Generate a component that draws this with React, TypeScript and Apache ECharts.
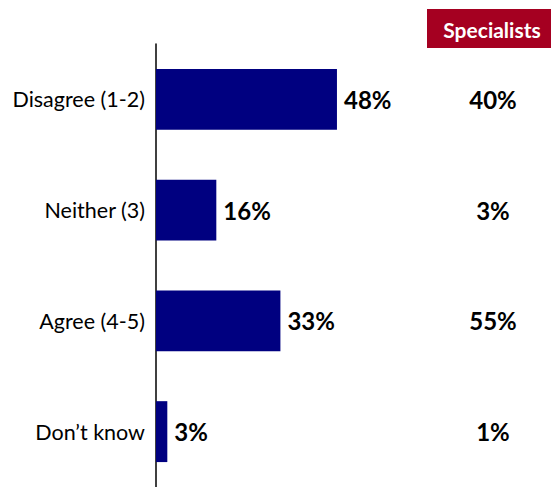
import React, { useEffect, useRef } from "react";
import * as echarts from "echarts";

const categories = ["Disagree (1-2)", "Neither (3)", "Agree (4-5)", "Don\u2019t know"];
const overallValues = [48, 16, 33, 3];
const specialistValues = [40, 3, 55, 1];
const columnHeader = "Specialists";

export default function App() {
  const ref = useRef<HTMLDivElement>(null);
  useEffect(() => {
    const chart = echarts.init(ref.current!, null, { renderer: "svg" });
    const font = "Lato, 'Noto Sans', sans-serif";
    chart.setOption({
      animation: false,
      backgroundColor: "#ffffff",
      grid: { left: 156, width: 377, top: 44, height: 448 },
      xAxis: { type: "value", min: 0, max: 100, show: false },
      yAxis: [
        {
          type: "category",
          data: categories,
          inverse: true,
          axisLine: { show: true, lineStyle: { color: "#000000", width: 1.5 } },
          axisTick: { show: false },
          axisLabel: { color: "#000000", fontSize: 21.5, fontFamily: font, margin: 11 },
        },
        {
          type: "category",
          data: categories,
          inverse: true,
          position: "right",
          axisLine: { show: false },
          axisTick: { show: false },
          axisLabel: {
            color: "#000000",
            fontSize: 24,
            fontWeight: "bold",
            fontFamily: font,
            align: "center",
            margin: -40,
            formatter: (_v: string, i: number) => specialistValues[i] + "%",
          },
        },
      ],
      series: [
        {
          type: "bar",
          data: overallValues,
          barCategoryGap: "45%",
          itemStyle: { color: "#000080" },
          label: {
            show: true,
            position: "right",
            distance: 7,
            color: "#000000",
            fontSize: 24,
            fontWeight: "bold",
            fontFamily: font,
            formatter: "{c}%",
          },
        },
      ],
      graphic: [
        {
          type: "rect",
          shape: { x: 427, y: 9, width: 124, height: 39 },
          style: { fill: "#A50021" },
        },
        {
          type: "text",
          x: 492,
          y: 29,
          style: {
            text: columnHeader,
            fill: "#ffffff",
            fontSize: 21,
            fontWeight: "bold",
            fontFamily: font,
            align: "center",
            verticalAlign: "middle",
          },
        },
      ],
    });
    return () => chart.dispose();
  }, []);
  return (
    <div
      ref={ref}
      style={{ position: "fixed", left: 0, top: 0, width: 551, height: 487 }}
    />
  );
}
